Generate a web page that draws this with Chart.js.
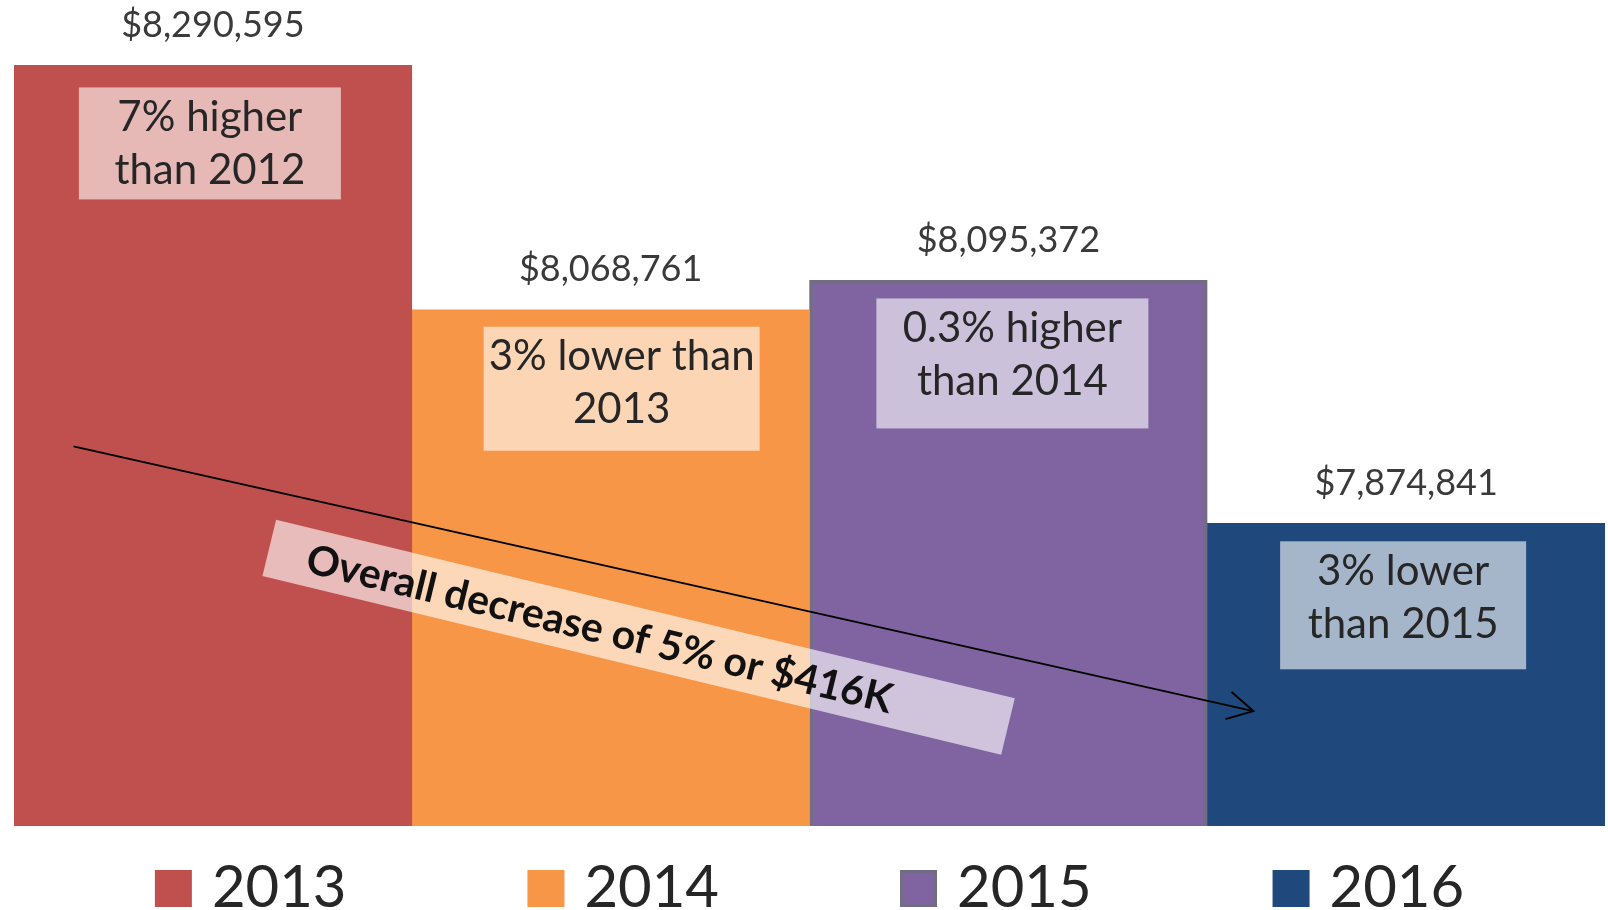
<!DOCTYPE html>
<html>
<head>
<meta charset="utf-8">
<script src="https://cdn.jsdelivr.net/npm/chart.js@4.4.0/dist/chart.umd.min.js"></script>
<style>
  html, body { margin: 0; padding: 0; background: #ffffff; }
  #wrap { width: 1608px; height: 910px; position: relative; }
</style>
</head>
<body>
<div id="wrap"><canvas id="c"></canvas></div>
<script>
// ---- data ----
const years = ['2013', '2014', '2015', '2016'];
const totals = [8290595, 8068761, 8095372, 7874841];
const changeNotes = [
  ['7% higher', 'than 2012'],
  ['3% lower than', '2013'],
  ['0.3% higher', 'than 2014'],
  ['3% lower', 'than 2015']
];
const overallNote = 'Overall decrease of 5% or $416K';
const yMin = 7600000;
const yMax = 8350000;

// ---- styles / layout ----
const barColors = ['#C0504D', '#F79646', '#8064A2', '#1F497D'];
const barBorders = [0, 0, 4, 0];
const barBorderColor = '#726C86';
const noteBoxes = [ // dx from bar centre, dy from bar top, width, height
  {dx: -3, dy: 22, w: 262, h: 112},
  {dx: 11, dy: 17, w: 276, h: 124},
  {dx: 4,  dy: 18, w: 272, h: 130},
  {dx: -3, dy: 18, w: 246, h: 128}
];

const fmt = v => '$' + v.toLocaleString('en-US');

const annotPlugin = {
  id: 'annot',
  afterDatasetsDraw(chart) {
    const ctx = chart.ctx;
    const area = chart.chartArea;
    ctx.save();
    // value labels and note boxes
    years.forEach((y, i) => {
      const bar = chart.getDatasetMeta(i).data[0];
      ctx.fillStyle = '#3a3a3a';
      ctx.font = '36px Lato';
      ctx.textAlign = 'center';
      ctx.textBaseline = 'middle';
      ctx.fillText(fmt(totals[i]), bar.x, bar.y - 40);

      const b = noteBoxes[i];
      const cx = bar.x + b.dx;
      const top = bar.y + b.dy;
      ctx.fillStyle = 'rgba(255,255,255,0.6)';
      ctx.fillRect(cx - b.w / 2, top, b.w, b.h);
      ctx.fillStyle = '#262626';
      ctx.font = '42px Lato';
      changeNotes[i].forEach((line, k) => {
        ctx.fillText(line, cx, top + 30 + k * 53);
      });
    });

    // rotated overall note
    const W = area.right - area.left, H = area.bottom - area.top;
    const bx = area.left + 0.3926 * W, by = area.top + 0.7714 * H;
    const ang = 13.6 * Math.PI / 180;
    ctx.save();
    ctx.translate(bx, by);
    ctx.rotate(ang);
    ctx.fillStyle = 'rgba(255,255,255,0.62)';
    ctx.fillRect(-380, -29, 760, 58);
    ctx.fillStyle = '#111111';
    ctx.font = 'bold 41px Lato';
    ctx.textAlign = 'center';
    ctx.textBaseline = 'middle';
    ctx.fillText(overallNote, -40, 2);
    ctx.restore();

    // arrow
    const x1 = area.left + 0.0374 * W, y1 = area.top + 0.5404 * H;
    const x2 = area.left + 0.779 * W, y2 = area.top + 0.8609 * H;
    ctx.strokeStyle = '#000000';
    ctx.lineWidth = 2;
    ctx.beginPath();
    ctx.moveTo(x1, y1);
    ctx.lineTo(x2, y2);
    ctx.stroke();
    const a = Math.atan2(y2 - y1, x2 - x1);
    const L = 29, sp = 0.5;
    ctx.beginPath();
    ctx.moveTo(x2 - L * Math.cos(a - sp), y2 - L * Math.sin(a - sp));
    ctx.lineTo(x2, y2);
    ctx.lineTo(x2 - L * Math.cos(a + sp), y2 - L * Math.sin(a + sp));
    ctx.stroke();

    // legend
    ctx.font = '58px Lato';
    ctx.textAlign = 'left';
    ctx.textBaseline = 'middle';
    const sw = 37, swGap = 20, gap = 181;
    const widths = years.map(t => sw + swGap + ctx.measureText(t).width);
    const total = widths.reduce((s, v) => s + v, 0) + gap * (years.length - 1);
    let x = (area.left + area.right) / 2 - total / 2;
    const ly = 888;
    years.forEach((t, i) => {
      ctx.fillStyle = barColors[i];
      ctx.fillRect(x, ly - 18, sw, 37);
      if (barBorders[i]) {
        ctx.strokeStyle = barBorderColor;
        ctx.lineWidth = 3;
        ctx.strokeRect(x + 1.5, ly - 16.5, sw - 3, 34);
      }
      ctx.fillStyle = '#262626';
      ctx.fillText(t, x + sw + swGap, ly);
      x += widths[i] + gap;
    });
    ctx.restore();
  }
};

new Chart(document.getElementById('c'), {
  type: 'bar',
  data: {
    labels: [''],
    datasets: years.map((y, i) => ({
      label: y,
      data: [totals[i]],
      backgroundColor: barColors[i],
      borderColor: barBorderColor,
      borderWidth: barBorders[i],
      borderSkipped: 'bottom'
    }))
  },
  options: {
    responsive: true,
    maintainAspectRatio: false,
    animation: false,
    layout: { padding: { left: 14, right: 3, top: 0, bottom: 84 } },
    datasets: { bar: { categoryPercentage: 1.0, barPercentage: 1.0 } },
    scales: {
      x: { display: false },
      y: { display: false, min: yMin, max: yMax }
    },
    plugins: {
      legend: { display: false },
      tooltip: { enabled: false }
    }
  },
  plugins: [annotPlugin]
});
</script>
</body>
</html>
